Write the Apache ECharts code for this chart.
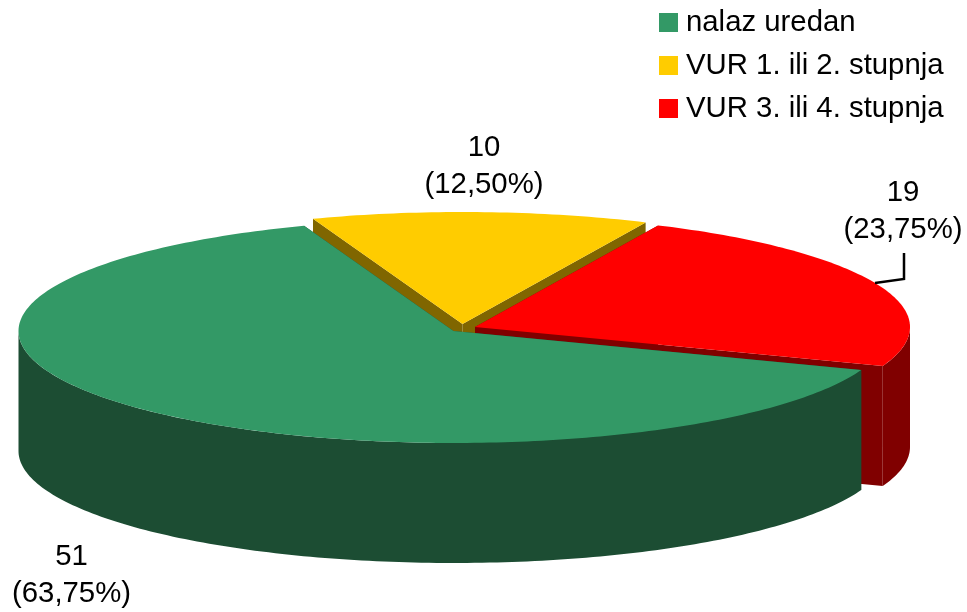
<!DOCTYPE html>
<html>
<head>
<meta charset="utf-8">
<style>html,body{margin:0;padding:0;background:#fff}#c{width:967px;height:612px}</style>
<script src="https://cdn.jsdelivr.net/npm/echarts@6/dist/echarts.min.js"></script>
</head>
<body>
<div id="c"></div>
<script>
const categories = ['nalaz uredan', 'VUR 1. ili 2. stupnja', 'VUR 3. ili 4. stupnja'];
const values = [51, 10, 19];
const topColors = ['#339966', '#FFCC00', '#FF0000'];
const wallColors = ['#1C4D33', '#806600', '#800000'];
// Presentation of the tilted, exploded pie
const startAngle = 110.4;        // degrees clockwise from 12 o'clock
const radiusX = 435, radiusY = 112, depth = 120;
const tips = [[453.5, 331], [462.5, 324], [475, 327]];
const labelAnchors = [[71.5, 575], [484, 166], [903, 211]];
const paintOrder = [3, 1, 2];
const leaderLine = [[875, 283], [904, 279], [904, 253]];
const FONT = '"Liberation Sans", Arial, sans-serif';
const FONT_SIZE = 29.33;

const total = values.reduce((a, b) => a + b, 0);
function sliceSpan(index) {
  let a = startAngle;
  for (let i = 0; i < index; i++) a += values[i] / total * 360;
  return [a, a + values[index] / total * 360];
}
function rimPoint(tip, deg, drop) {
  const t = deg * Math.PI / 180;
  return [tip[0] + radiusX * Math.sin(t), tip[1] - radiusY * Math.cos(t) + drop];
}
function arcPoints(tip, a0, a1, drop) {
  const n = Math.max(2, Math.ceil(Math.abs(a1 - a0)));
  const pts = [];
  for (let i = 0; i <= n; i++) pts.push(rimPoint(tip, a0 + (a1 - a0) * i / n, drop));
  return pts;
}
function lower(p) { return [p[0], p[1] + depth]; }
function poly(points, fill) {
  return { type: 'polygon', shape: { points }, style: { fill, stroke: null } };
}
function renderSlice(index) {
  return function (params, api) {
    const value = api.value(0);
    const [a0, a1] = sliceSpan(index);
    const tip = tips[index];
    const wall = wallColors[index];
    const children = [];
    // flat cut faces
    [a0, a1].forEach(function (a) {
      const p = rimPoint(tip, a, 0);
      children.push(poly([tip, p, lower(p), lower(tip)], wall));
    });
    // curved outer wall: only the front half of the rim is visible
    const ranges = [[90, 270], [450, 630]];
    ranges.forEach(function (r) {
      const s = Math.max(a0, r[0]), e = Math.min(a1, r[1]);
      if (e > s) {
        const rim = arcPoints(tip, s, e, 0);
        children.push(poly(rim.concat(rim.slice().reverse().map(lower)), wall));
      }
    });
    // top face
    children.push(poly([tip].concat(arcPoints(tip, a0, a1, 0)), topColors[index]));
    // leader line belongs to the red slice
    if (index === 2) {
      children.push({ type: 'polyline', shape: { points: leaderLine },
        style: { stroke: '#000', lineWidth: 2.5, fill: null } });
    }
    // data label
    const pct = (value / total * 100).toFixed(2).replace('.', ',');
    children.push({ type: 'text', z2: 10, style: {
      text: value + '\n(' + pct + '%)',
      x: labelAnchors[index][0], y: labelAnchors[index][1],
      align: 'center', verticalAlign: 'middle',
      fontSize: FONT_SIZE, fontFamily: FONT, lineHeight: 37, fill: '#000' } });
    return { type: 'group', children };
  };
}

const chart = echarts.init(document.getElementById('c'), null, { renderer: 'canvas' });
chart.setOption({
  animation: false,
  backgroundColor: '#fff',
  legend: {
    data: categories,
    orient: 'vertical',
    left: 659, top: 8, padding: 0,
    itemWidth: 19, itemHeight: 19, itemGap: 14,
    icon: 'rect',
    selectedMode: false,
    textStyle: { fontSize: FONT_SIZE, fontFamily: FONT, color: '#000', padding: [0, 0, 0, 3] }
  },
  series: categories.map(function (name, i) {
    return {
      type: 'custom', name, coordinateSystem: 'none', silent: true,
      z: paintOrder[i],
      itemStyle: { color: topColors[i] },
      data: [values[i]],
      renderItem: renderSlice(i)
    };
  })
});
</script>
</body>
</html>
